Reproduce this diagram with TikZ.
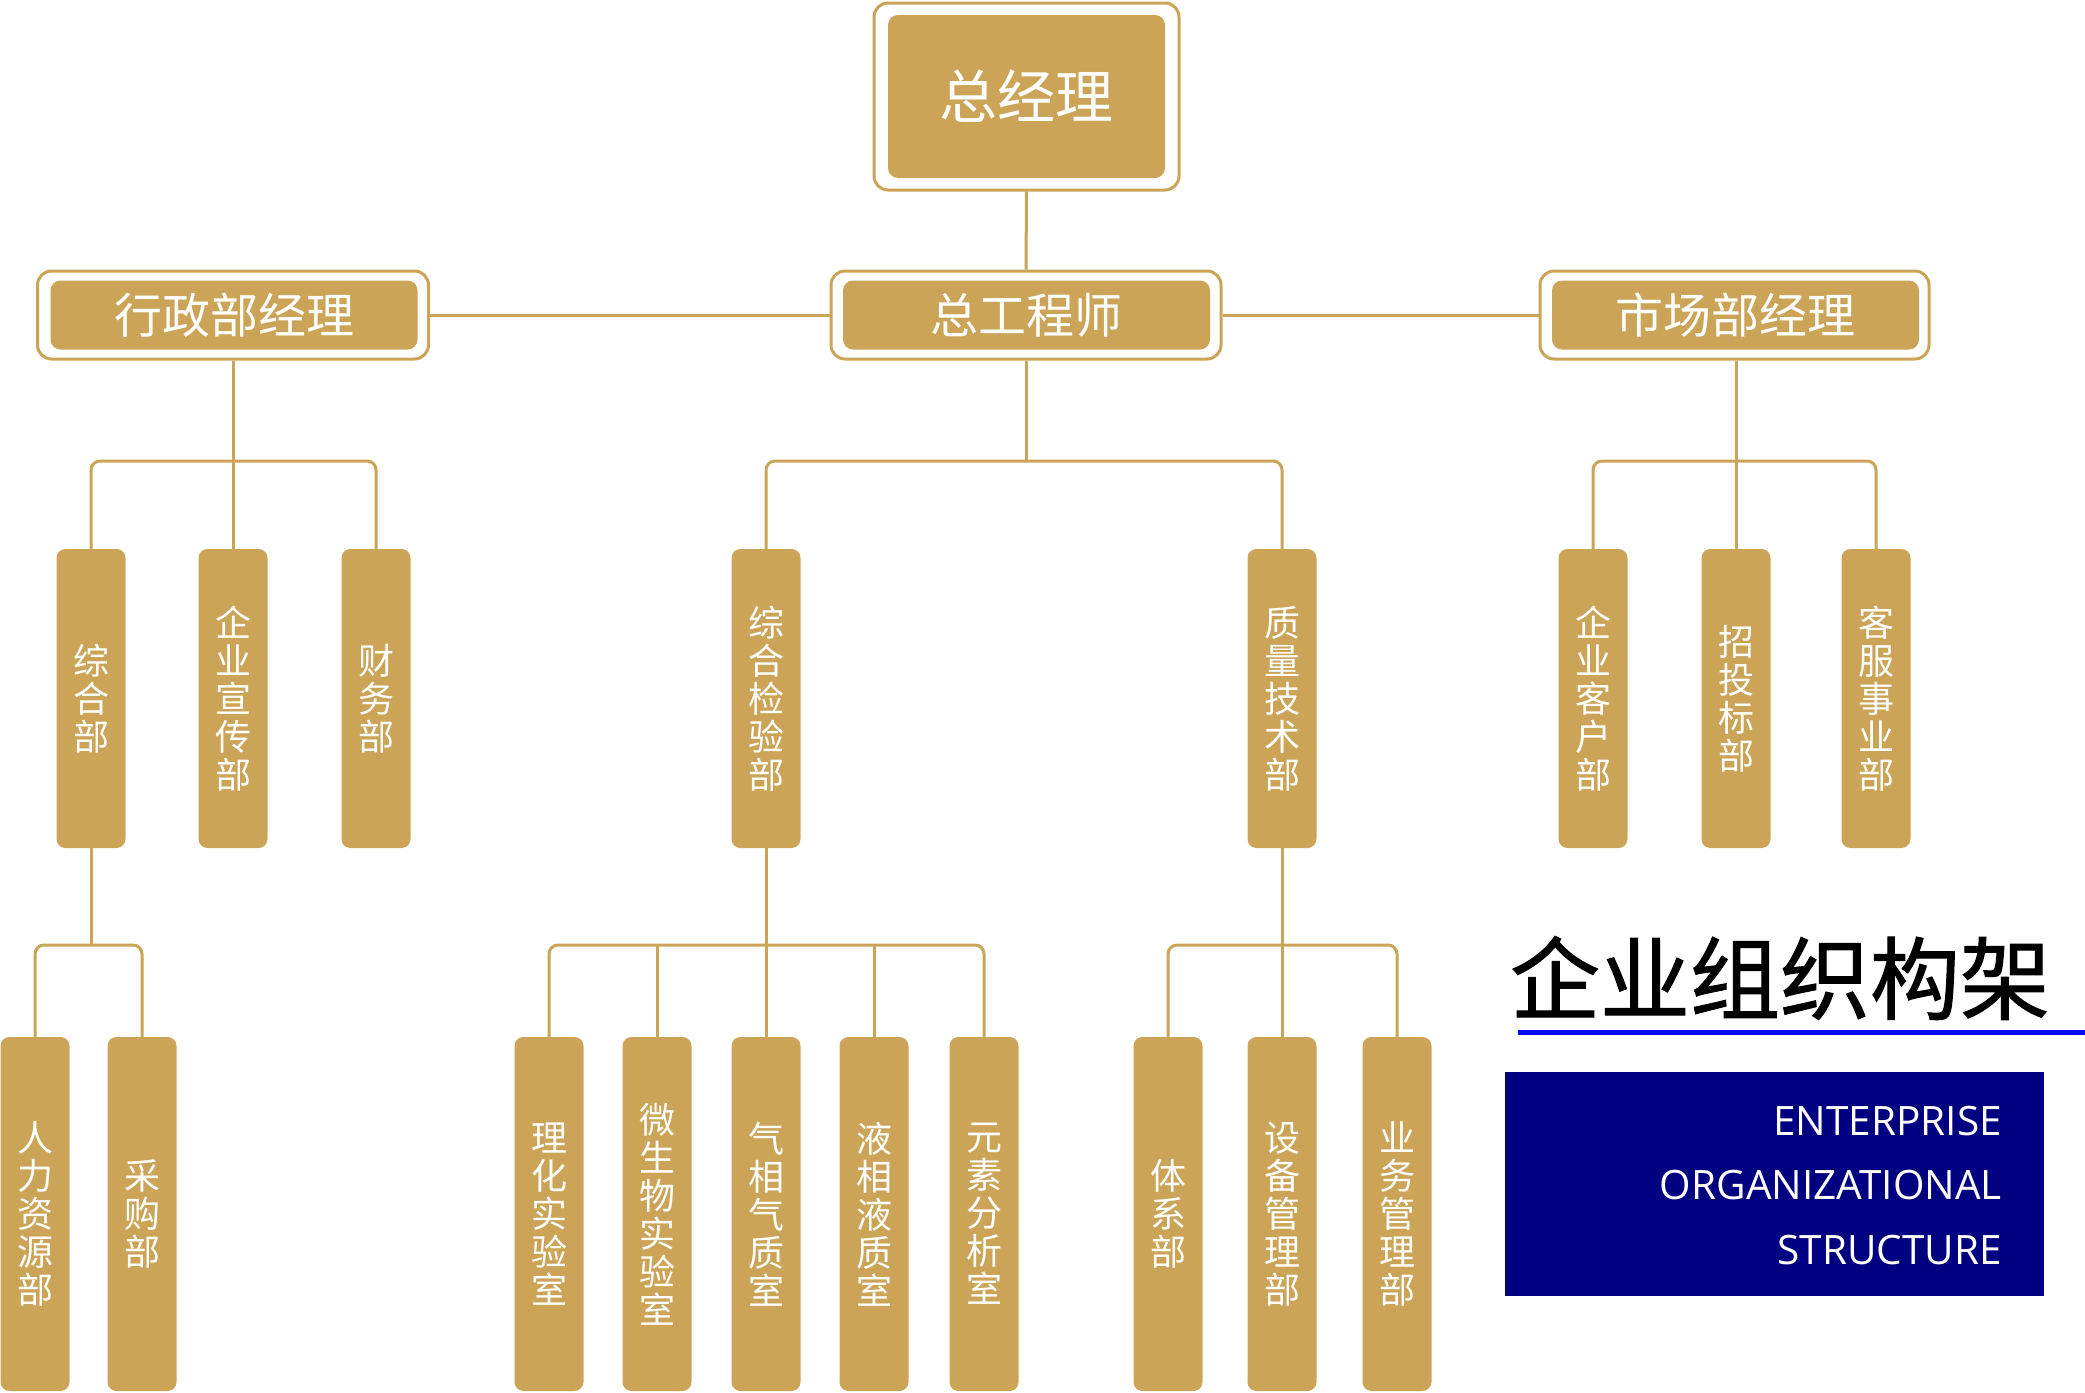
\documentclass[tikz,border=0pt]{standalone}
\usepackage{fontspec}
\setmainfont{Open Sans}
\newfontfamily\cjk{Noto Sans CJK SC}
\newfontfamily\cjktitle[FakeBold=1.2]{Noto Sans CJK SC}
\definecolor{gold}{HTML}{CBA457}
\definecolor{navyblue}{HTML}{000080}
\definecolor{lineblue}{HTML}{0A0AF5}
\begin{document}
\begin{tikzpicture}[x=1pt,y=-1pt,
  conn/.style={draw=gold,line width=3pt,rounded corners=9pt},
  framebox/.style={draw=gold,line width=3pt,fill=white,rounded corners=14pt,inner sep=0pt},
  headbox/.style={fill=gold,rounded corners=10pt,text=white,inner sep=0pt,font=\cjk\fontsize{48}{52}\selectfont},
  vbox/.style={fill=gold,rounded corners=9pt,text=white,minimum width=69pt,inner sep=0pt,align=center,font=\cjk\fontsize{36}{38}\selectfont},
  rowone/.style={vbox,minimum height=299pt},
  rowtwo/.style={vbox,minimum height=354pt},
  entext/.style={text=white,font=\fontsize{40.5}{40}\selectfont,inner sep=0pt,anchor=base east},
]
\useasboundingbox (0,0) rectangle (2085,1392);
% top
\node[framebox,minimum width=305pt,minimum height=187pt] (gmf) at (1026.5,96.5) {};
\node[headbox,minimum width=277pt,minimum height=163pt,font=\cjk\fontsize{58}{62}\selectfont] (gm) at (1026.5,96.5) {总经理};
% second level
\node[framebox,minimum width=391pt,minimum height=88pt] (adf) at (233,315) {};
\node[headbox,minimum width=367pt,minimum height=69pt] (ad) at (234,315) {行政部经理};
\node[framebox,minimum width=390pt,minimum height=88pt] (cef) at (1026,315) {};
\node[headbox,minimum width=367pt,minimum height=69pt] (ce) at (1026.5,315) {总工程师};
\node[framebox,minimum width=389pt,minimum height=88pt] (mkf) at (1734.5,315) {};
\node[headbox,minimum width=367pt,minimum height=69pt] (mk) at (1735.5,315) {市场部经理};
% row one
\node[rowone] (zh) at (91,698.5) {综\\合\\部};
\node[rowone] (xc) at (233,698.5) {企\\业\\宣\\传\\部};
\node[rowone] (cw) at (376,698.5) {财\\务\\部};
\node[rowone] (jy) at (766,698.5) {综\\合\\检\\验\\部};
\node[rowone] (zl) at (1282,698.5) {质\\量\\技\\术\\部};
\node[rowone] (kh) at (1593,698.5) {企\\业\\客\\户\\部};
\node[rowone] (zt) at (1736,698.5) {招\\投\\标\\部};
\node[rowone] (kf) at (1876,698.5) {客\\服\\事\\业\\部};
% row two
\node[rowtwo] (rl) at (35,1214) {人\\力\\资\\源\\部};
\node[rowtwo] (cg) at (142,1214) {采\\购\\部};
\node[rowtwo] (lh) at (549,1214) {理\\化\\实\\验\\室};
\node[rowtwo] (ws) at (657,1214) {微\\生\\物\\实\\验\\室};
\node[rowtwo] (qx) at (766,1214) {气\\相\\气\\质\\室};
\node[rowtwo] (yx) at (874,1214) {液\\相\\液\\质\\室};
\node[rowtwo] (ys) at (984,1214) {元\\素\\分\\析\\室};
\node[rowtwo] (tx) at (1168,1214) {体\\系\\部};
\node[rowtwo] (sb) at (1282,1214) {设\\备\\管\\理\\部};
\node[rowtwo] (yw) at (1397,1214) {业\\务\\管\\理\\部};
% branch levels
\coordinate (ba) at (0,461);
\coordinate (bb) at (0,945);
% connectors
\draw[conn] (gmf.south) -- (cef.north);
\draw[conn] (adf.east) -- (cef.west);
\draw[conn] (cef.east) -- (mkf.west);
\draw[conn] (xc.north) -- (xc.north |- adf.south);
\draw[conn] (zh.north) -- (zh.north |- ba) -- (cw.north |- ba) -- (cw.north);
\draw[conn] (cef.south) -- (cef.south |- ba);
\draw[conn] (jy.north) -- (jy.north |- ba) -- (zl.north |- ba) -- (zl.north);
\draw[conn] (zt.north) -- (zt.north |- mkf.south);
\draw[conn] (kh.north) -- (kh.north |- ba) -- (kf.north |- ba) -- (kf.north);
\draw[conn] (zh.south) -- (zh.south |- bb);
\draw[conn] (rl.north) -- (rl.north |- bb) -- (cg.north |- bb) -- (cg.north);
\draw[conn] (jy.south) -- (qx.north);
\draw[conn] (lh.north) -- (lh.north |- bb) -- (ys.north |- bb) -- (ys.north);
\draw[conn] (ws.north) -- (ws.north |- bb);
\draw[conn] (yx.north) -- (yx.north |- bb);
\draw[conn] (zl.south) -- (sb.north);
\draw[conn] (tx.north) -- (tx.north |- bb) -- (yw.north |- bb) -- (yw.north);
% title
\node[font=\cjktitle\fontsize{90}{92}\selectfont,inner sep=0pt] (title) at (1780,978) {企业组织构架};
\coordinate (lineend) at (2085,1032);
\draw[lineblue,line width=5pt] (1518,1032) -- (lineend);
\node[fill=navyblue,minimum width=539pt,minimum height=224pt,inner sep=0pt] (nb) at (1774.5,1184) {};
\node[entext] (e1) at (2002,1135) {ENTERPRISE};
\node[entext] (e2) at (2002,1199) {ORGANIZATIONAL};
\node[entext] (e3) at (2002,1264) {STRUCTURE};
\end{tikzpicture}
\end{document}
